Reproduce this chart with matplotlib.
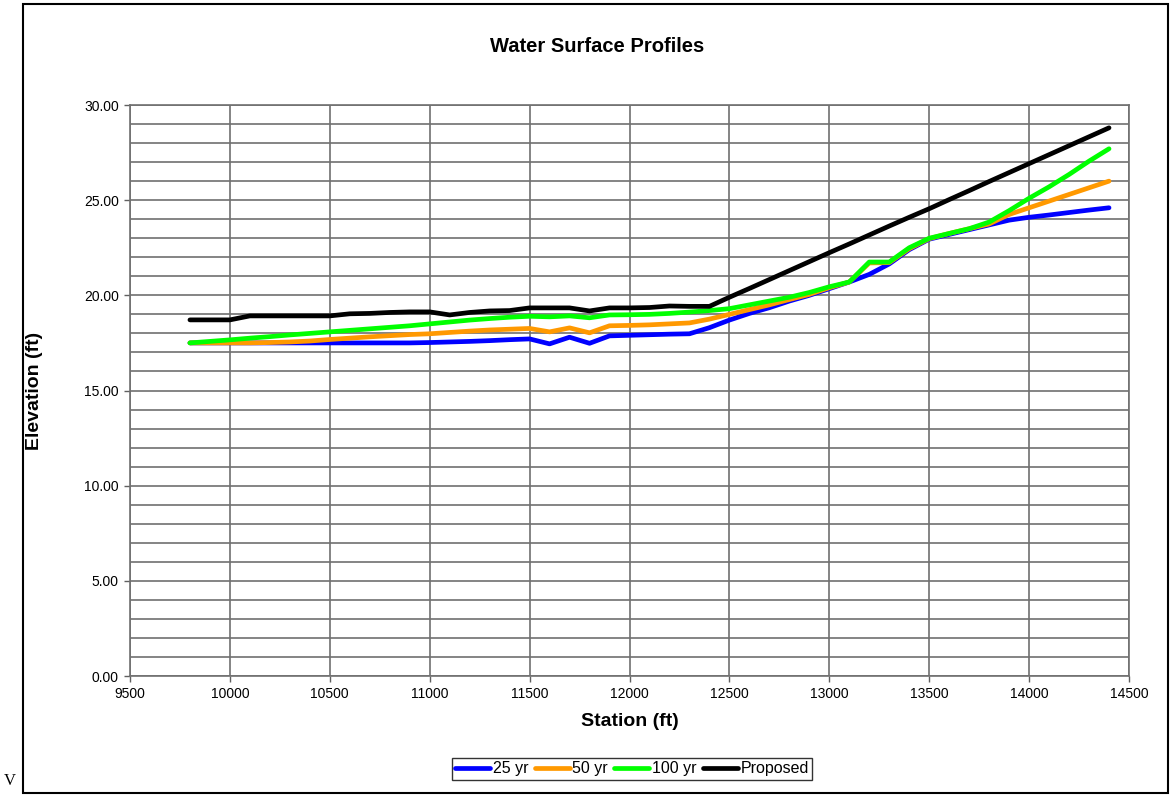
import matplotlib
matplotlib.use("Agg")
import matplotlib.pyplot as plt
from matplotlib.patches import Rectangle
from matplotlib.ticker import MultipleLocator, FormatStrFormatter

plt.rcParams['font.family'] = ['Liberation Sans', 'DejaVu Sans']

stations = [9800, 9900, 10000, 10100, 10200, 10300, 10400, 10500, 10600, 10700,
            10800, 10900, 11000, 11100, 11200, 11300, 11400, 11500, 11600, 11700,
            11800, 11900, 12000, 12100, 12200, 12300, 12400, 12500, 12600, 12700,
            12800, 12900, 13000, 13100, 13200, 13300, 13400, 13500, 13600, 13700,
            13800, 13900, 14000, 14100, 14200, 14300, 14400]

yr25 = [17.5, 17.5, 17.5, 17.5, 17.5, 17.5, 17.5, 17.5, 17.5, 17.5,
        17.5, 17.5, 17.52, 17.55, 17.58, 17.62, 17.67, 17.71, 17.45, 17.8,
        17.48, 17.87, 17.9, 17.93, 17.96, 17.98, 18.3, 18.7, 19.05, 19.35,
        19.7, 20.0, 20.35, 20.7, 21.1, 21.65, 22.4, 22.95, 23.2, 23.45,
        23.7, 23.95, 24.1, 24.22, 24.35, 24.48, 24.6]

yr50 = [17.5, 17.5, 17.5, 17.5, 17.52, 17.55, 17.6, 17.68, 17.75, 17.82,
        17.88, 17.94, 17.98, 18.05, 18.12, 18.18, 18.22, 18.26, 18.08, 18.29,
        18.03, 18.4, 18.42, 18.45, 18.5, 18.55, 18.75, 19.0, 19.25, 19.5,
        19.78, 20.05, 20.4, 20.7, 21.7, 21.72, 22.45, 22.98, 23.25, 23.5,
        23.75, 24.25, 24.6, 24.95, 25.3, 25.65, 26.0]

yr100 = [17.5, 17.58, 17.66, 17.75, 17.83, 17.92, 18.0, 18.08, 18.16, 18.24,
         18.32, 18.4, 18.5, 18.6, 18.7, 18.78, 18.85, 18.9, 18.87, 18.92,
         18.82, 18.97, 18.98, 19.0, 19.05, 19.12, 19.2, 19.3, 19.5, 19.7,
         19.9, 20.15, 20.45, 20.7, 21.75, 21.75, 22.5, 23.0, 23.25, 23.5,
         23.85, 24.45, 25.1, 25.7, 26.35, 27.05, 27.7]

proposed = [18.71, 18.71, 18.71, 18.92, 18.92, 18.92, 18.92, 18.92, 19.03, 19.05,
            19.1, 19.13, 19.13, 18.97, 19.1, 19.18, 19.2, 19.34, 19.34, 19.34,
            19.18, 19.34, 19.34, 19.36, 19.44, 19.42, 19.42, 19.9, 20.36, 20.83,
            21.3, 21.77, 22.24, 22.7, 23.17, 23.64, 24.1, 24.55, 25.03, 25.5,
            25.98, 26.45, 26.92, 27.39, 27.86, 28.33, 28.8]

series_names = ['25 yr', '50 yr', '100 yr', 'Proposed']
series_colors = ['#0000FF', '#FF9900', '#00FF00', '#000000']

W, H = 1170, 795
fig = plt.figure(figsize=(W / 100, H / 100), dpi=100)
ax = fig.add_axes([130 / W, 1 - 676 / H, (1129 - 130) / W, (676 - 105) / H])

for vals, name, col in zip([yr25, yr50, yr100, proposed], series_names, series_colors):
    ax.plot(stations, vals, color=col, lw=3.4, label=name,
            solid_capstyle='round', solid_joinstyle='round', zorder=3)

ax.set_xlim(9500, 14500)
ax.set_ylim(0, 30)
ax.xaxis.set_major_locator(MultipleLocator(500))
ax.yaxis.set_major_locator(MultipleLocator(5))
ax.yaxis.set_minor_locator(MultipleLocator(1))
ax.yaxis.set_major_formatter(FormatStrFormatter('%.2f'))
ax.grid(True, which='major', axis='both', color='#707070', lw=1.2, zorder=1)
ax.grid(True, which='minor', axis='y', color='#707070', lw=1.2, zorder=1)
ax.tick_params(which='major', direction='out', length=4, width=1, labelsize=10,
               color='#606060', pad=4)
ax.tick_params(which='minor', length=0)
for s in ax.spines.values():
    s.set_color('#707070')
    s.set_linewidth(1.2)

fig.text(597 / W, 1 - 46 / H, 'Water Surface Profiles', fontsize=14.5,
         fontweight='bold', ha='center', va='center')
ax.set_xlabel('Station (ft)', fontsize=14, fontweight='bold', va='center')
ax.xaxis.set_label_coords(0.5, (676 - 722) / (676 - 105))
ax.set_ylabel('Elevation (ft)', fontsize=14, fontweight='bold', va='center')
ax.yaxis.set_label_coords((34 - 130) / (1129 - 130), 0.5)

leg = fig.legend(loc='center', bbox_to_anchor=(632 / W, 1 - 769 / H), ncol=4,
                 fontsize=11.5, frameon=True, fancybox=False, edgecolor='black',
                 handlelength=2.2, handletextpad=0.15, columnspacing=0.4,
                 borderpad=0.2, borderaxespad=0)
leg.get_frame().set_linewidth(1.0)

fig.patches.append(Rectangle((23 / W, 1 - 793 / H), (1168 - 23) / W, (793 - 4) / H,
                             transform=fig.transFigure, fill=False,
                             edgecolor='black', lw=1.5))
fig.text(4 / W, 1 - 781 / H, 'V', family=['Liberation Serif', 'DejaVu Serif'],
         fontsize=12, va='center', ha='left')

fig.savefig('out.png', dpi=100)
